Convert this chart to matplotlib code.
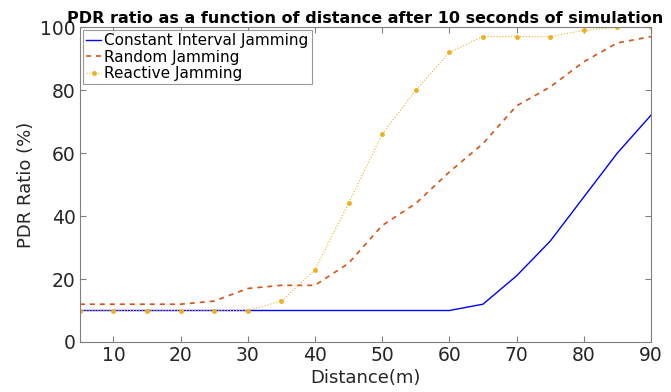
import matplotlib
matplotlib.use("Agg")
import matplotlib.pyplot as plt

distance = [5, 10, 15, 20, 25, 30, 35, 40, 45, 50, 55, 60, 65, 70, 75, 80, 85, 90]
constant = [10, 10, 10, 10, 10, 10, 10, 10, 10, 10, 10, 10, 12, 21, 32, 46, 60, 72]
random_j = [12, 12, 12, 12, 13, 17, 18, 18, 25, 37, 44, 54, 63, 75, 81, 89, 95, 97]
reactive = [10, 10, 10, 10, 10, 10, 13, 23, 44, 66, 80, 92, 97, 97, 97, 99, 100, 100]
x_ticks = [10, 20, 30, 40, 50, 60, 70, 80, 90]
y_ticks = [0, 20, 40, 60, 80, 100]

plt.rcParams['font.family'] = ['DejaVu Sans']
fig = plt.figure(figsize=(6.71, 3.92), dpi=100)
ax = fig.add_axes([0.119, 0.1276, 0.851, 0.803])

ax.plot(distance, constant, color='#0000ff', lw=1.0, label='Constant Interval Jamming')
ax.plot(distance, random_j, color='#D95319', lw=1.2, ls=(0, (3, 3)), label='Random Jamming')
ax.plot(distance, reactive, color='#EDB120', lw=0.8, ls=':', marker='.', ms=5,
        label='Reactive Jamming')

ax.set_xlim(5, 90)
ax.set_ylim(0, 100)
ax.set_xticks(x_ticks)
ax.set_yticks(y_ticks)
ax.tick_params(direction='in', top=True, right=True, labelsize=13.5, colors='#808080',
               labelcolor='#262626', length=4, pad=3)
for s in ax.spines.values():
    s.set_color('#808080')
ax.set_xlabel('Distance(m)', fontsize=13, color='#262626', labelpad=3)
ax.set_ylabel('PDR Ratio (%)', fontsize=13, color='#262626', labelpad=4)
ax.set_title('PDR ratio as a function of distance after 10 seconds of simulation',
             fontsize=11.5, fontweight='bold', pad=3)
leg = ax.legend(loc='upper left', fontsize=11, handlelength=1.0, handletextpad=0.2,
                borderpad=0.2, labelspacing=0.1, fancybox=False, borderaxespad=0.2)
leg.get_frame().set_edgecolor('#808080')
leg.get_frame().set_linewidth(0.8)

fig.savefig('out.png', dpi=100)
